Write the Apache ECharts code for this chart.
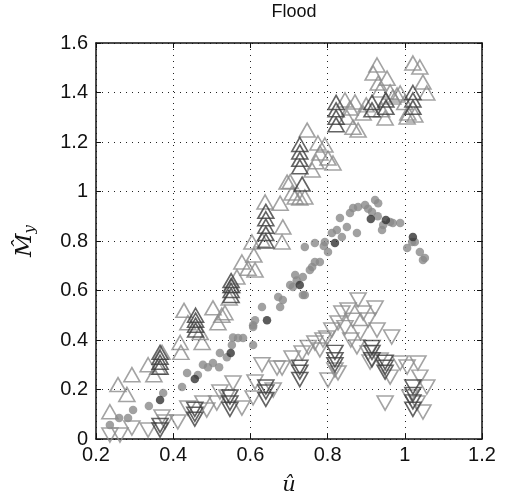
<!DOCTYPE html>
<html><head><meta charset="utf-8">
<script src="https://cdn.jsdelivr.net/npm/echarts@6/dist/echarts.min.js"></script>
<style>html,body{margin:0;padding:0;background:#fff}#c{width:511px;height:501px}</style>
</head><body><div id="c"></div>
<script>
const title = 'Flood';
const xTicks = [0.2, 0.4, 0.6, 0.8, 1, 1.2];
const yTicks = [0, 0.2, 0.4, 0.6, 0.8, 1, 1.2, 1.4, 1.6];

const upLight = [[0.236,0.11],[0.257,0.22],[0.28,0.18],[0.293,0.26],[0.335,0.30],[0.35,0.26],[0.36,0.29],[0.371,0.35],[0.418,0.39],[0.42,0.35],[0.428,0.52],[0.438,0.47],[0.47,0.43],[0.475,0.39],[0.503,0.53],[0.516,0.47],[0.526,0.50],[0.534,0.51],[0.545,0.57],[0.552,0.62],[0.565,0.655],[0.578,0.715],[0.594,0.69],[0.604,0.796],[0.609,0.743],[0.612,0.683],[0.63,0.804],[0.638,0.958],[0.677,0.953],[0.684,0.857],[0.682,0.796],[0.695,1.038],[0.703,1.04],[0.708,0.994],[0.716,0.978],[0.728,0.974],[0.741,0.978],[0.747,1.248],[0.76,1.087],[0.775,1.196],[0.78,1.156],[0.793,1.188],[0.801,1.135],[0.814,1.115],[0.845,1.37],[0.858,1.337],[0.866,1.26],[0.871,1.362],[0.879,1.248],[0.892,1.317],[0.918,1.479],[0.928,1.511],[0.931,1.438],[0.936,1.41],[0.949,1.297],[0.954,1.458],[0.962,1.402],[0.969,1.382],[0.98,1.39],[0.988,1.398],[1.006,1.301],[1.008,1.317],[1.021,1.519],[1.026,1.309],[1.039,1.503],[1.047,1.442],[1.057,1.398],[0.85,1.30],[0.90,1.35],[0.94,1.33],[1.0,1.36],[0.77,1.12]];
const upDark = [[0.366,0.29],[0.366,0.31],[0.366,0.33],[0.366,0.35],[0.458,0.44],[0.458,0.46],[0.458,0.48],[0.458,0.50],[0.55,0.58],[0.55,0.60],[0.55,0.62],[0.55,0.64],[0.64,0.80],[0.64,0.83],[0.64,0.86],[0.64,0.89],[0.64,0.92],[0.728,1.10],[0.728,1.13],[0.728,1.16],[0.728,1.19],[0.734,1.03],[0.822,1.27],[0.822,1.30],[0.822,1.33],[0.822,1.36],[0.915,1.33],[0.915,1.36],[0.951,1.34],[0.951,1.37],[1.021,1.34],[1.021,1.37],[1.021,1.40]];
const dotLight = [[0.236,0.057],[0.26,0.085],[0.283,0.085],[0.296,0.117],[0.337,0.133],[0.374,0.186],[0.423,0.21],[0.436,0.267],[0.464,0.259],[0.477,0.30],[0.49,0.29],[0.503,0.307],[0.519,0.29],[0.521,0.347],[0.539,0.33],[0.552,0.38],[0.555,0.41],[0.568,0.408],[0.581,0.408],[0.607,0.38],[0.607,0.46],[0.612,0.48],[0.607,0.453],[0.63,0.533],[0.672,0.574],[0.677,0.533],[0.684,0.562],[0.703,0.622],[0.71,0.614],[0.716,0.663],[0.736,0.655],[0.736,0.582],[0.741,0.582],[0.754,0.683],[0.76,0.695],[0.767,0.715],[0.78,0.715],[0.741,0.776],[0.767,0.792],[0.793,0.796],[0.801,0.756],[0.811,0.832],[0.824,0.844],[0.837,0.816],[0.832,0.893],[0.85,0.857],[0.858,0.913],[0.866,0.933],[0.876,0.832],[0.879,0.937],[0.897,0.945],[0.915,0.917],[0.923,0.966],[0.931,0.953],[0.941,0.844],[0.944,0.865],[0.962,0.877],[0.969,0.873],[0.988,0.873],[1.006,0.772],[1.019,0.796],[1.026,0.796],[1.039,0.756],[1.047,0.723],[1.052,0.731],[0.72,0.64],[0.79,0.78],[0.905,0.93],[0.93,0.90]];
const dotDark = [[0.366,0.158],[0.456,0.242],[0.549,0.347],[0.643,0.48],[0.728,0.622],[0.819,0.792],[0.912,0.889],[0.951,0.885],[1.021,0.816]];
const downLight = [[0.236,0.016],[0.262,0.016],[0.293,0.044],[0.335,0.036],[0.371,0.089],[0.379,0.069],[0.412,0.069],[0.438,0.125],[0.477,0.145],[0.487,0.117],[0.513,0.145],[0.521,0.19],[0.539,0.17],[0.555,0.226],[0.578,0.125],[0.612,0.23],[0.607,0.166],[0.63,0.30],[0.669,0.287],[0.659,0.198],[0.682,0.287],[0.708,0.327],[0.734,0.347],[0.767,0.388],[0.788,0.40],[0.798,0.408],[0.801,0.238],[0.827,0.267],[0.819,0.279],[0.811,0.44],[0.827,0.469],[0.837,0.509],[0.853,0.521],[0.879,0.562],[0.892,0.509],[0.905,0.481],[0.923,0.529],[0.928,0.44],[0.876,0.372],[0.905,0.347],[0.91,0.311],[0.936,0.319],[0.966,0.412],[0.962,0.25],[0.988,0.307],[1.006,0.291],[1.034,0.307],[1.039,0.25],[1.057,0.21],[0.949,0.145],[1.013,0.17],[1.032,0.145],[1.047,0.109],[0.845,0.45],[0.865,0.48],[0.885,0.43],[0.75,0.37],[0.78,0.36],[0.86,0.40]];
const downDark = [[0.366,0.036],[0.366,0.055],[0.456,0.08],[0.456,0.10],[0.456,0.12],[0.547,0.12],[0.547,0.145],[0.547,0.17],[0.64,0.16],[0.64,0.19],[0.64,0.21],[0.728,0.24],[0.728,0.27],[0.728,0.29],[0.819,0.30],[0.819,0.32],[0.819,0.35],[0.915,0.32],[0.915,0.35],[0.915,0.37],[0.949,0.27],[0.949,0.29],[0.949,0.31],[1.021,0.12],[1.021,0.15],[1.021,0.18],[1.021,0.21]];

const LIGHT = '#8c8c8c', DARK = '#3c3c3c';
const chart = echarts.init(document.getElementById('c'), null, {renderer: 'canvas'});
const fontFam = 'Liberation Sans, Arial, sans-serif';
function tri(data, color, down) {
  return {type: 'scatter', data: data, symbol: 'triangle', symbolSize: [16, 14],
    symbolRotate: down ? 180 : 0, silent: true,
    itemStyle: {color: 'rgba(255,255,255,0)', borderColor: color, borderWidth: 1.6}};
}
function dots(data, color) {
  return {type: 'scatter', data: data, symbol: 'circle', symbolSize: 8.5, silent: true,
    itemStyle: {color: color}};
}
const gridLine = {show: true, lineStyle: {color: '#222', type: [1, 5], width: 1}};
const fmt = v => String(+v.toFixed(1));
chart.setOption({
  animation: false,
  backgroundColor: '#fff',
  title: {text: title, left: 289, top: -2, textAlign: 'center',
    textStyle: {fontFamily: fontFam, fontSize: 18, fontWeight: 'normal', color: '#111'}},
  grid: {left: 96, right: 29, top: 43, bottom: 62, containLabel: false},
  xAxis: [{type: 'value', min: 0.2, max: 1.2, interval: 0.2, position: 'bottom',
    name: 'û', nameLocation: 'middle', nameGap: 36,
    nameTextStyle: {fontFamily: 'DejaVu Serif, Liberation Serif, serif', fontStyle: 'italic', fontSize: 21, color: '#111'},
    axisLine: {show: true, onZero: false, lineStyle: {color: '#111', width: 1.5}},
    axisTick: {show: true, inside: true, length: 5, lineStyle: {color: '#111'}},
    axisLabel: {fontFamily: fontFam, fontSize: 20, color: '#111', margin: 6, formatter: fmt},
    splitLine: gridLine},
   {type: 'value', min: 0.2, max: 1.2, interval: 0.2, position: 'top',
    axisLine: {show: true, onZero: false, lineStyle: {color: '#111', width: 1.5}},
    axisTick: {show: true, inside: true, length: 5, lineStyle: {color: '#111'}},
    axisLabel: {show: false}, splitLine: {show: false}}],
  yAxis: [{type: 'value', min: 0, max: 1.6, interval: 0.2, position: 'left',
    name: '{m|M̂}{s|y}', nameLocation: 'middle', nameGap: 58, nameRotate: 90,
    nameTextStyle: {rich: {
      m: {fontFamily: 'DejaVu Serif, Liberation Serif, serif', fontStyle: 'italic', fontSize: 23, color: '#111'},
      s: {fontFamily: 'DejaVu Serif, Liberation Serif, serif', fontStyle: 'italic', fontSize: 15, color: '#111', padding: [10, 0, 0, 0]}}},
    axisLine: {show: true, onZero: false, lineStyle: {color: '#111', width: 1.5}},
    axisTick: {show: true, inside: true, length: 5, lineStyle: {color: '#111'}},
    axisLabel: {fontFamily: fontFam, fontSize: 20, color: '#111', margin: 8, formatter: fmt},
    splitLine: gridLine},
   {type: 'value', min: 0, max: 1.6, interval: 0.2, position: 'right',
    axisLine: {show: true, onZero: false, lineStyle: {color: '#111', width: 1.5}},
    axisTick: {show: true, inside: true, length: 5, lineStyle: {color: '#111'}},
    axisLabel: {show: false}, splitLine: {show: false}}],
  series: [tri(upLight, LIGHT, false), tri(upDark, DARK, false),
           dots(dotLight, '#8a8a8a'), dots(dotDark, '#333'),
           tri(downLight, LIGHT, true), tri(downDark, DARK, true)]
});
</script></body></html>
